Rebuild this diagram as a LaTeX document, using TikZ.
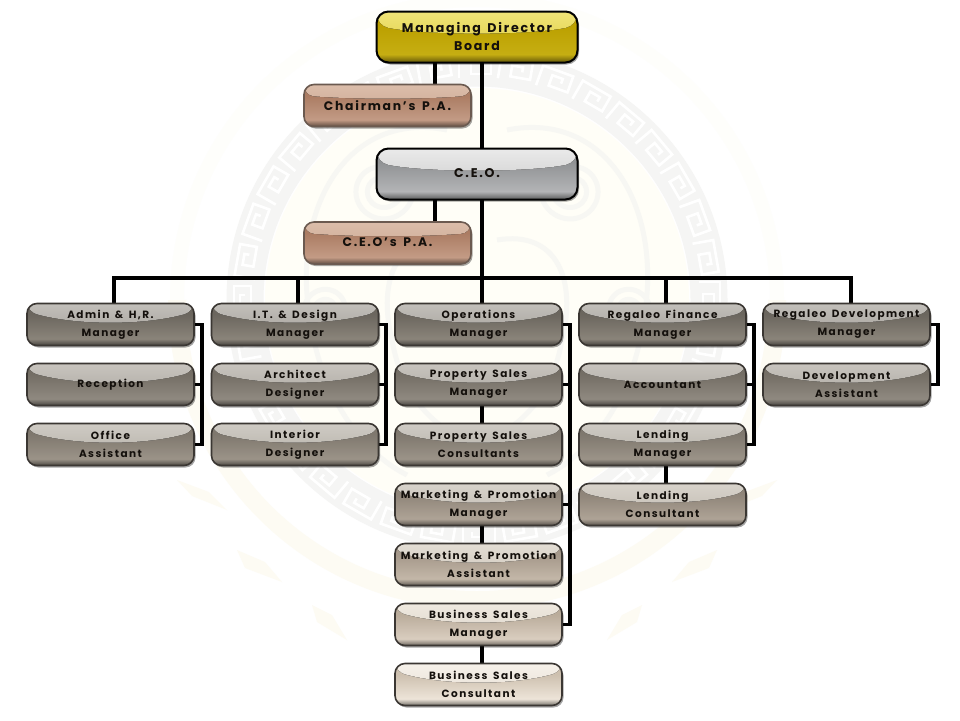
\documentclass[tikz,border=0pt]{standalone}
\usepackage{fontspec}
\setmainfont{Poppins}[LetterSpace=14,WordSpace=1.5]
\usetikzlibrary{shadows,calc,backgrounds}
\pgfdeclarelayer{wm}
\pgfdeclarelayer{conlayer}
\pgfsetlayers{wm,conlayer,main}
\newcommand{\defrow}[6]{%
  \definecolor{#1ga}{HTML}{#2}\definecolor{#1gb}{HTML}{#3}%
  \definecolor{#1la}{HTML}{#4}\definecolor{#1lb}{HTML}{#5}%
  \definecolor{#1bd}{HTML}{#6}%
  \pgfdeclareverticalshading{#1shade}{100bp}{%
    color(0bp)=(#1lb!50!black); color(25bp)=(#1lb!50!black); color(33bp)=(#1lb);
    color(62bp)=(#1la); color(100bp)=(#1la)}}
\defrow{rowone}{C2BFBA}{A09C95}{6B665E}{8A847A}{3B3733}
\defrow{rowtwo}{C8C4BE}{A8A49D}{746E65}{8F8980}{3B3733}
\defrow{rowthree}{CFCBC4}{B0ACA4}{7F786E}{9B9388}{3B3733}
\defrow{rowfour}{D8D3CB}{BDB7AD}{8F8579}{AEA396}{3B3733}
\defrow{rowfive}{E3DDD4}{CBC4B9}{A5988A}{C3B7A8}{3B3733}
\defrow{rowsix}{EFE9E0}{DAD2C6}{BAAC9B}{D9CDBF}{3B3733}
\defrow{rowseven}{F6F1EA}{E4DCD0}{CDC0AF}{EDE4D8}{3B3733}
\defrow{pacol}{DBBDAA}{C8A38D}{AB7C63}{C39B85}{6B5A50}
\defrow{ceocol}{EAEAEA}{C6C6C6}{909294}{B3B4B6}{000000}
\defrow{mdcol}{F0E478}{DCCB38}{BBA000}{C6AE12}{000000}
\definecolor{wmgray}{HTML}{F5F5F4}
\definecolor{wmswirl}{HTML}{F7F7F3}
\definecolor{wmcream}{HTML}{FDFBF3}
\definecolor{wmpale}{HTML}{FEFEFB}
\definecolor{wminner}{HTML}{FFFEF7}
\definecolor{inkcol}{HTML}{14100C}
\def\gE{8pt}\def\gM{22pt}
\tikzset{
  gloss/.code 2 args={\def\gE{#1}\def\gM{#2}},
  glass/.style={
    draw=#1bd, line width=1.6pt, rounded corners=10pt, inner sep=0pt, outer sep=0pt,
    align=center, text=inkcol, font=\fontsize{10.5}{18}\selectfont\bfseries,
    shade, shading=#1shade,
    drop shadow={shadow xshift=1.5pt, shadow yshift=-2pt, opacity=.35, fill=black},
    path picture={
      \fill[top color=#1ga, bottom color=#1gb]
        (path picture bounding box.north west) -- (path picture bounding box.north east)
        -- ([yshift=-\gE]path picture bounding box.north east)
        .. controls ([shift={(-50pt,-\gM)}]path picture bounding box.north east)
        and ([shift={(50pt,-\gM)}]path picture bounding box.north west)
        .. ([yshift=-\gE]path picture bounding box.north west) -- cycle;
    }},
  smallbox/.style={glass=#1, minimum width=167pt, minimum height=42pt},
  pabox/.style={smallbox=#1, gloss={11pt}{15pt}, font=\fontsize{12.4}{18}\selectfont\bfseries},
  bigbox/.style={glass=#1, minimum width=201pt, minimum height=51pt, rounded corners=12pt,
    line width=2pt, gloss={14pt}{24pt}, font=\fontsize{12.6}{18}\selectfont\bfseries},
  conn/.style={draw=black, line width=3.2pt},
  wmline/.style={draw=wmswirl, line width=5pt},
}
\begin{document}
\begin{tikzpicture}[x=1pt,y=-1pt]
\useasboundingbox (0,0) rectangle (960,720);
\begin{pgfonlayer}{wm}
  \fill[white] (0,0) rectangle (960,720);
  \begin{scope}[shift={(477,300)}]
    \draw[wmcream, line width=18pt] (300,0) arc[start angle=0,delta angle=180,radius=300];
    \draw[wmpale, line width=14pt] (-300,0) arc[start angle=180,delta angle=180,radius=300];
    \fill[wminner] (0,0) circle[radius=212];
    \draw[wmgray, line width=37pt] (0,0) circle[radius=232];
    \foreach \a in {0,10,...,350}{
      \draw[white, line width=2.6pt, rotate=\a]
        (-18,-222) -- (-18,-243) -- (14,-243) -- (14,-226) -- (-6,-226) -- (-6,-237) -- (5,-237) -- (5,-232);
    }
    \foreach \s in {-1,1}{
      \begin{scope}[xscale=\s]
        \draw[wmline] plot[domain=0:900,samples=60,smooth]
          ({95+(3+\x*0.032)*cos(\x)},{-110+(3+\x*0.032)*sin(\x)});
        \draw[wmline] plot[domain=0:720,samples=50,smooth]
          ({150+(3+\x*0.028)*cos(\x)},{10+(3+\x*0.028)*sin(\x)});
        \draw[wmline] (30,-170) .. controls (130,-190) and (190,-90) .. (165,30)
           .. controls (155,90) and (120,150) .. (70,175);
        \draw[wmline] (20,-60) .. controls (80,-70) and (100,-20) .. (85,40)
           .. controls (78,80) and (60,110) .. (30,130);
        \fill[wmcream] (300,180) -- (268,192) -- (250,210) -- (285,196) -- cycle;
        \fill[wmcream] (240,250) -- (212,262) -- (195,282) -- (232,268) -- cycle;
        \fill[wmcream] (165,305) -- (145,315) -- (130,340) -- (160,322) -- cycle;
      \end{scope}
    }
  \end{scope}
\end{pgfonlayer}

\node[bigbox=mdcol] (md) at (477,37) {Managing Director\\Board};
\node[pabox=pacol] (chair) at (387.5,105.5) {Chairman's P.A.};
\node[bigbox=ceocol] (ceo) at (477,174) {\raisebox{2pt}{C.E.O.}};
\node[pabox=pacol] (ceopa) at (387.5,243) {\raisebox{1pt}{C.E.O's P.A.}};

\node[smallbox=rowone] (admin) at (110.5,324.5) {Admin \& H,R.\\Manager};
\node[smallbox=rowtwo] (recep) at (110.5,384.5) {Reception};
\node[smallbox=rowthree] (office) at (110.5,444.5) {Office\\Assistant};

\node[smallbox=rowone] (it) at (295,324.5) {I.T. \& Design\\Manager};
\node[smallbox=rowtwo] (arch) at (295,384.5) {Architect\\Designer};
\node[smallbox=rowthree] (inter) at (295,444.5) {Interior\\Designer};

\node[smallbox=rowone] (ops) at (478.5,324.5) {Operations\\Manager};
\node[smallbox=rowtwo] (psm) at (478.5,384.5) {Property Sales\\Manager};
\node[smallbox=rowthree] (psc) at (478.5,444.5) {Property Sales\\Consultants};
\node[smallbox=rowfour] (mpm) at (478.5,504.5) {Marketing \& Promotion\\Manager};
\node[smallbox=rowfive] (mpa) at (478.5,564.5) {Marketing \& Promotion\\Assistant};
\node[smallbox=rowsix] (bsm) at (478.5,624.5) {Business Sales\\Manager};
\node[smallbox=rowseven] (bsc) at (478.5,684.5) {Business Sales\\Consultant};

\node[smallbox=rowone] (fin) at (662.5,324.5) {Regaleo Finance\\Manager};
\node[smallbox=rowtwo] (acc) at (662.5,384.5) {Accountant};
\node[smallbox=rowthree] (lem) at (662.5,444.5) {Lending\\Manager};
\node[smallbox=rowfour] (lec) at (662.5,504.5) {Lending\\Consultant};

\node[smallbox=rowone] (dev) at (846.5,324.5) {Regaleo Development\\Manager};
\node[smallbox=rowtwo] (dva) at (846.5,384.5) {Development\\Assistant};

\coordinate (bus) at (482,278);

\begin{pgfonlayer}{conlayer}
  \draw[conn] ([xshift=5pt]md.south) -- ([xshift=5pt]ceo.north);
  \draw[conn] ([xshift=-42pt]md.south) -- ([xshift=47.5pt]chair.north);
  \draw[conn] ([xshift=-42pt]ceo.south) -- ([xshift=47.5pt]ceopa.north);
  \draw[conn] ([xshift=5pt]ceo.south) -- (bus);
  \draw[conn] ([xshift=3.5pt]admin.north) |- (bus) -| ([xshift=4.5pt]dev.north);
  \draw[conn] ([xshift=3pt]it.north) |- (bus);
  \draw[conn] (bus) -- ([xshift=3.5pt]ops.north);
  \draw[conn] ([xshift=3.5pt]fin.north) |- (bus);
  \draw[conn] (admin.east) -- ++(8,0) |- (office.east);
  \draw[conn] (recep.east) -- ++(8,0);
  \draw[conn] (it.east) -- ++(7.5,0) |- (inter.east);
  \draw[conn] (arch.east) -- ++(7.5,0);
  \draw[conn] (ops.east) -- ++(8,0) |- (bsm.east);
  \draw[conn] (psm.east) -- ++(8,0);
  \draw[conn] (mpm.east) -- ++(8,0);
  \draw[conn] (fin.east) -- ++(8,0) |- (lem.east);
  \draw[conn] (acc.east) -- ++(8,0);
  \draw[conn] (dev.east) -- ++(8,0) |- (dva.east);
  \draw[conn] ([xshift=3.5pt]psm.south) -- ([xshift=3.5pt]psc.north);
  \draw[conn] ([xshift=3.5pt]mpm.south) -- ([xshift=3.5pt]mpa.north);
  \draw[conn] ([xshift=3.5pt]bsm.south) -- ([xshift=3.5pt]bsc.north);
  \draw[conn] ([xshift=3.5pt]lem.south) -- ([xshift=3.5pt]lec.north);
\end{pgfonlayer}
\end{tikzpicture}
\end{document}
